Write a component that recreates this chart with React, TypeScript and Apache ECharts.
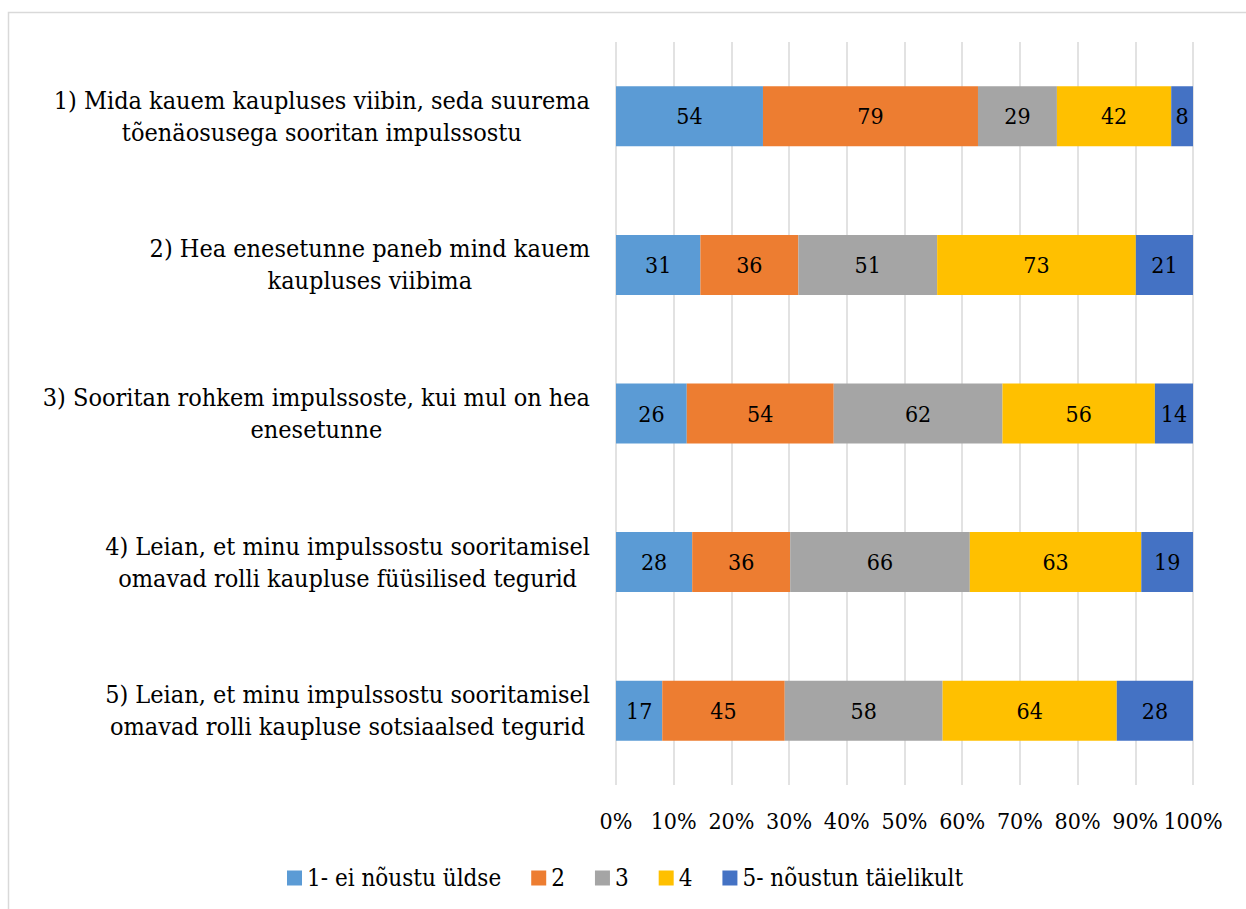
import React, { useEffect, useRef } from "react";
import * as echarts from "echarts";

const categories = [
  "1) Mida kauem kaupluses viibin, seda suurema\ntõenäosusega sooritan impulssostu",
  "2) Hea enesetunne paneb mind kauem\nkaupluses viibima",
  "3) Sooritan rohkem impulssoste, kui mul on hea\nenesetunne",
  "4) Leian, et minu impulssostu sooritamisel\nomavad rolli kaupluse füüsilised tegurid",
  "5) Leian, et minu impulssostu sooritamisel\nomavad rolli kaupluse sotsiaalsed tegurid",
];

const seriesNames = ["1- ei nõustu üldse", "2", "3", "4", "5- nõustun täielikult"];
const seriesColors = ["#5B9BD5", "#ED7D31", "#A5A5A5", "#FFC000", "#4472C4"];

const s1 = [54, 31, 26, 28, 17];
const s2 = [79, 36, 54, 36, 45];
const s3 = [29, 51, 62, 66, 58];
const s4 = [42, 73, 56, 63, 64];
const s5 = [8, 21, 14, 19, 28];
const counts = [s1, s2, s3, s4, s5];

const FONT = "DejaVu Serif Condensed";

export default function App() {
  const ref = useRef<HTMLDivElement>(null);
  useEffect(() => {
    if (!ref.current) return;
    const chart = echarts.init(ref.current, undefined, { renderer: "svg" });
    const totals = categories.map((_, i) => counts.reduce((a, s) => a + s[i], 0));
    const series = counts.map((arr, si) => ({
      name: seriesNames[si],
      type: "bar",
      stack: "total",
      barWidth: 60,
      itemStyle: { color: seriesColors[si] },
      label: {
        show: true,
        position: "inside",
        color: "#000",
        fontSize: 23,
        fontFamily: FONT,
        formatter: (p: any) => String(arr[p.dataIndex]),
      },
      data: arr.map((v, i) => (v / totals[i]) * 100),
    }));
    chart.setOption({
      animation: false,
      backgroundColor: "#fff",
      textStyle: { fontFamily: FONT },
      graphic: [
        {
          type: "rect",
          shape: { x: 8.5, y: 12.5, width: 1300, height: 1000 },
          style: { fill: "none", stroke: "#d9d9d9", lineWidth: 1.5 },
          silent: true,
        },
      ],
      grid: { left: 616, right: 53, top: 42, bottom: 124, containLabel: false },
      xAxis: {
        type: "value",
        min: 0,
        max: 100,
        interval: 10,
        axisLine: { show: false },
        axisTick: { show: false },
        splitLine: { show: true, lineStyle: { color: "#d9d9d9", width: 1.5 } },
        axisLabel: {
          margin: 24,
          color: "#000",
          fontSize: 23,
          fontFamily: FONT,
          formatter: (v: number) => `${v}%`,
        },
      },
      yAxis: {
        type: "category",
        inverse: true,
        data: categories,
        axisLine: { show: false },
        axisTick: { show: false },
        axisLabel: {
          margin: 26,
          color: "#000",
          fontSize: 25,
          fontFamily: FONT,
          lineHeight: 32,
          formatter: (v: string) =>
            v
              .split("\n")
              .map((l) => `{c|${l}}`)
              .join("\n"),
          rich: {
            c: {
              align: "center",
              fontSize: 25,
              lineHeight: 32,
              fontFamily: FONT,
              color: "#000",
            },
          },
        },
      },
      legend: {
        left: 282,
        top: 861,
        icon: "rect",
        itemWidth: 15,
        itemHeight: 15,
        itemGap: 30,
        textStyle: { fontSize: 24, fontFamily: FONT, color: "#000" },
        data: seriesNames,
      },
      series,
    });
    return () => chart.dispose();
  }, []);
  return (
    <div
      ref={ref}
      style={{ position: "fixed", left: 0, top: 0, width: 1246, height: 909 }}
    />
  );
}
